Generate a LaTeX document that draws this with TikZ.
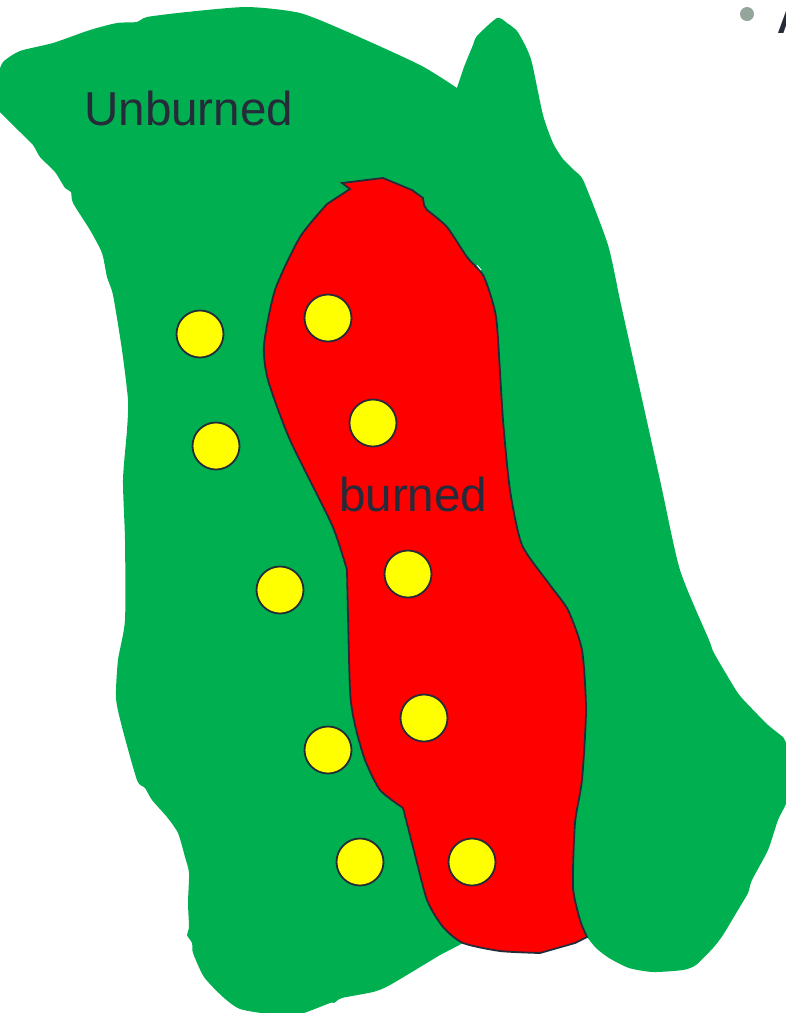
\documentclass[tikz,border=0pt]{standalone}
\usepackage{fontspec}
\setmainfont{Liberation Sans}
\usepackage{xcolor}
\definecolor{unburnedgreen}{HTML}{00B050}
\definecolor{inkdark}{HTML}{262B3A}
\definecolor{bulletgray}{HTML}{94A59B}
\definecolor{seedyellow}{HTML}{FFFF00}
\definecolor{burnedred}{HTML}{FF0000}
\begin{document}
\begin{tikzpicture}[x=1pt,y=-1pt,
  seed/.style={circle,draw=inkdark,line width=1.8pt,fill=seedyellow,minimum size=47pt,inner sep=0pt},
  zonelabel/.style={text=inkdark,font=\fontsize{47.6}{48}\selectfont,inner sep=0pt,anchor=base west}]
  \useasboundingbox (0,0) rectangle (786,1013);
  \clip (0,0) rectangle (786,1013);

  % unburned region
  \fill[unburnedgreen] plot[smooth,tension=.4] coordinates {(-2,75) (3,62) (20,51) (53,43) (90,30) (117,23) (137,22) (147,17) (187,12) (247,7) (300,13) (350,33) (420,65) (457,88)}
    -- plot[smooth,tension=.4] coordinates {(457,88) (464,67) (473,45) (477,36) (497,18) (507,23) (517,31) (526,47) (532,63) (543,115) (553,143) (563,159) (575,171) (584,182) (608,245) (620,300) (630,345) (660,480) (680,570) (709,640) (714,653) (734,687) (741,697) (758,715) (768,725) (783,737)}
    -- plot[smooth,tension=.4] coordinates {(783,737) (788,750) (788,797) (778,820) (768,850) (752,880) (748,893) (738,910) (723,935) (713,948) (696,965) (683,970) (653,972) (629,968) (609,958) (596,948) (587,937)}
    -- (540,930) -- (465,942) -- (440,955)
    -- plot[smooth,tension=.4] coordinates {(440,955) (390,985) (373,992) (342,998) (334,1003) (330,1003) (300,1014) (270,1014) (240,1009) (223,997) (204,977) (193,953) (192,943) (187,935) (189,927) (188,903) (189,873) (185,857) (178,833) (167,817) (152,800) (145,788) (137,780) (122,727) (116,698) (118,660) (125,620) (125,540) (123,480) (127,430) (128,400) (122,350) (113,295) (107,277) (102,253) (90,230) (73,203) (71,192) (65,188) (55,172) (40,157) (33,145) (20,132) (0,112) (-2,110)}
    -- cycle;

  % burned region
  \draw[inkdark,line width=1.8pt,fill=burnedred] (342,183) -- (383,178) -- (412,190) -- (423,198) -- (424,205) -- (427,210)
    -- plot[smooth,tension=.4] coordinates {(427,210) (447,227) (467,257) (483,275) (492,300) (497,325) (503,420) (510,490) (522,545) (550,585) (568,610) (582,650) (586,710) (582,780) (575,823) (573,887) (580,920) (587,937)}
    -- (575,943) -- (540,953)
    -- plot[smooth,tension=.4] coordinates {(540,953) (500,951) (463,943) (443,927) (427,900) (413,847) (403,808)}
    -- plot[smooth,tension=.4] coordinates {(403,808) (380,790) (365,760) (355,725) (350,690) (347,570)}
    -- plot[smooth,tension=.4] coordinates {(347,570) (332,525) (290,440) (268,380) (264,345) (275,290) (300,237) (327,204)}
    -- (350,189) -- cycle;
  \draw[white,line width=1pt] (477,265) -- (481,270);

  % seeds
  \foreach \i/\px/\py in {1/200/334,2/216/446,3/280/590,4/328/750,5/360/862,6/328/318,7/373/423,8/408/574,9/424/718,10/472/862}
    \node[seed] (seed\i) at (\px,\py) {};

  \node[zonelabel] (unburned) at (84,125.5) {Unburned};
  \node[zonelabel] (burned) at (339,511) {burned};

  % cut off text at the corner
  \node[circle,fill=bulletgray,minimum size=14pt,inner sep=0pt] (bullet) at (747,14) {};
  \node[text=inkdark,font=\fontsize{38}{38}\selectfont\bfseries,inner sep=0pt,anchor=base west] (cutoff) at (777,33) {A};
\end{tikzpicture}
\end{document}
